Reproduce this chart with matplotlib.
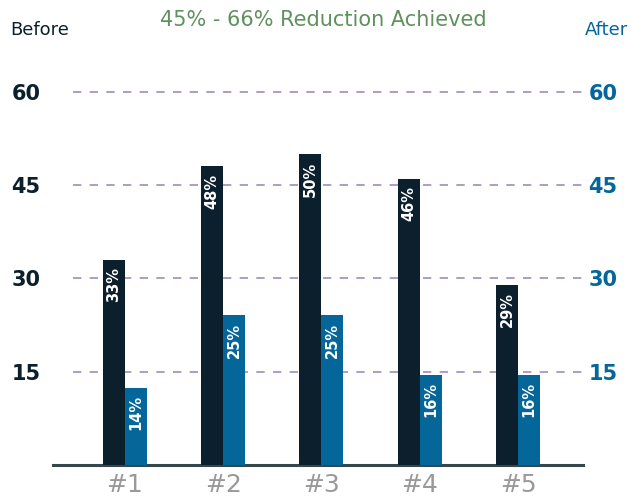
import matplotlib.pyplot as plt
import numpy as np

categories = ['#1', '#2', '#3', '#4', '#5']
before = [33, 48, 50, 46, 29]
after = [12.4, 24.1, 24.1, 14.5, 14.5]
before_labels = ['33%', '48%', '50%', '46%', '29%']
after_labels = ['14%', '25%', '25%', '16%', '16%']
ticks = [15, 30, 45, 60]

dark = '#0b1f2c'
blue = '#05669a'

fig = plt.figure(figsize=(6.44, 5.01), dpi=100)
ax = fig.add_axes([53 / 644, 36 / 501, 530 / 644, 6.22 * 63 / 501])

x = np.arange(len(categories))
w = 0.224
ax.bar(x - w / 2, before, width=w, color=dark, zorder=3)
ax.bar(x + w / 2, after, width=w, color=blue, zorder=3)

for i in range(len(categories)):
    ax.text(x[i] - w / 2, before[i] - 1.2, before_labels[i], rotation=90,
            ha='center', va='top', color='white', fontsize=10.5,
            fontweight='bold', zorder=4)
    ax.text(x[i] + w / 2, after[i] - 1.2, after_labels[i], rotation=90,
            ha='center', va='top', color='white', fontsize=10.5,
            fontweight='bold', zorder=4)

ax.set_xlim(-0.73, 4.66)
ax.set_ylim(0, 63)
ax.hlines(ticks, -0.53, 4.66, colors='#a08ac0', linestyles=(0, (5, 5)),
          linewidth=1.2, zorder=1)

for s in ['top', 'right', 'left']:
    ax.spines[s].set_visible(False)
ax.spines['bottom'].set_color('#34474a')
ax.spines['bottom'].set_linewidth(2.2)

ax.set_xticks(x)
ax.set_xticklabels(categories, fontsize=18, color='#999999')
ax.tick_params(axis='x', length=0, pad=6)
ax.set_yticks(ticks)
ax.set_yticklabels([str(t) for t in ticks], fontsize=15, color=dark,
                   fontweight='bold')
ax.tick_params(axis='y', length=0, pad=9)

ax2 = ax.twinx()
ax2.set_ylim(ax.get_ylim())
ax2.set_yticks(ticks)
ax2.set_yticklabels([str(t) for t in ticks], fontsize=15, color=blue,
                    fontweight='bold')
ax2.tick_params(axis='y', length=0, pad=4)
for s in ax2.spines.values():
    s.set_visible(False)

fig.text(10 / 644, 1 - 30 / 501, 'Before', fontsize=13, color=dark,
         va='center', ha='left')
fig.text(585 / 644, 1 - 30 / 501, 'After', fontsize=13, color=blue,
         va='center', ha='left')
fig.text(323 / 644, 1 - 20 / 501, '45% - 66% Reduction Achieved',
         fontsize=15, color='#5f915f', va='center', ha='center')

fig.savefig('out.png', dpi=100)
